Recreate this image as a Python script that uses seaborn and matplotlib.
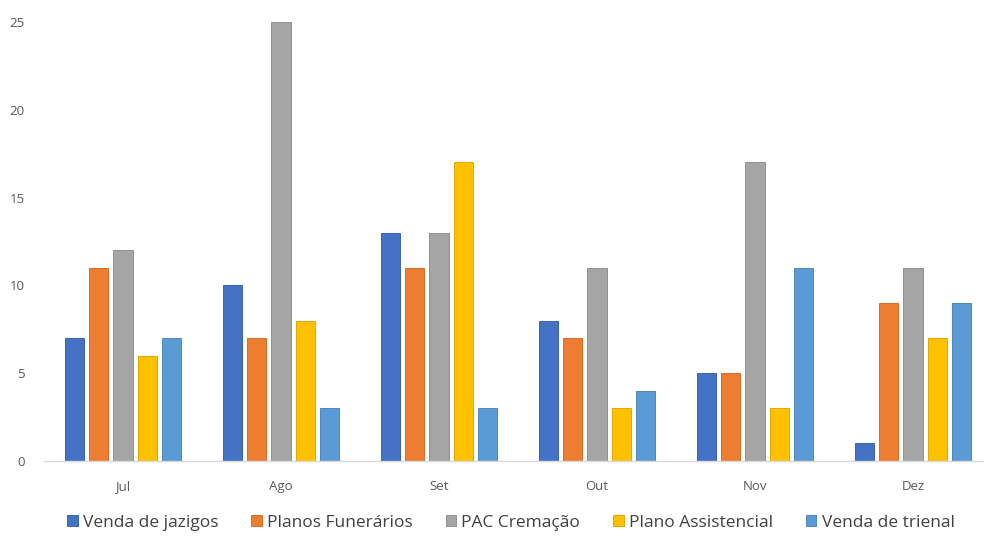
import pandas as pd
import matplotlib.pyplot as plt
import seaborn as sns

months = ["Jul", "Ago", "Set", "Out", "Nov", "Dez"]
series_names = ["Venda de jazigos", "Planos Funerários", "PAC Cremação",
                "Plano Assistencial", "Venda de trienal"]
venda_jazigos = [7, 10, 13, 8, 5, 1]
planos_funerarios = [11, 7, 11, 7, 5, 9]
pac_cremacao = [12, 25, 13, 11, 17, 11]
plano_assistencial = [6, 8, 17, 3, 3, 7]
venda_trienal = [7, 3, 3, 4, 11, 9]
colors = ["#4472C4", "#ED7D31", "#A5A5A5", "#FFC000", "#5B9BD5"]

all_values = [venda_jazigos, planos_funerarios, pac_cremacao,
              plano_assistencial, venda_trienal]
rows = []
for name, vals in zip(series_names, all_values):
    for m, v in zip(months, vals):
        rows.append({"Mês": m, "Série": name, "Valor": v})
data = pd.DataFrame(rows)

sns.set_style("white")
plt.rcParams["font.family"] = ["Open Sans", "DejaVu Sans"]

fig = plt.figure(figsize=(9.84, 5.36), dpi=100)
# plot area in pixels: x 44..992, y 22..461
ax = fig.add_axes([44 / 984, (536 - 461) / 536, 948 / 984, 439 / 536])

sns.barplot(data=data, x="Mês", y="Valor", hue="Série", order=months,
            hue_order=series_names, palette=colors, width=0.77, gap=0.2,
            saturation=1, ax=ax, legend=True)

# faint darker outline like the source image
for bar in ax.patches:
    fc = bar.get_facecolor()
    bar.set_edgecolor((fc[0] * 0.88, fc[1] * 0.88, fc[2] * 0.88, 1))
    bar.set_linewidth(0.7)

ax.set_xlim(-0.5, 5.5)
ax.set_ylim(0, 25)
ax.set_yticks([0, 5, 10, 15, 20, 25])
ax.set_xlabel("")
ax.set_ylabel("")
for s in ["top", "right", "left"]:
    ax.spines[s].set_visible(False)
ax.spines["bottom"].set_color("#D9D9D9")
ax.spines["bottom"].set_linewidth(1)
ax.tick_params(axis="both", length=0, labelsize=9.5, labelcolor="#595959")
ax.tick_params(axis="y", pad=14)
ax.tick_params(axis="x", pad=14)

handles, labels = ax.get_legend_handles_labels()
ax.legend_.remove()
fig.legend(handles, labels, loc="center", bbox_to_anchor=(511 / 984, 1 - 523 / 536),
           ncol=5, frameon=False, fontsize=12.5, handlelength=0.6, handleheight=0.6,
           handletextpad=0.3, columnspacing=1.9, labelcolor="#404040")

fig.savefig("out.png", dpi=100)
